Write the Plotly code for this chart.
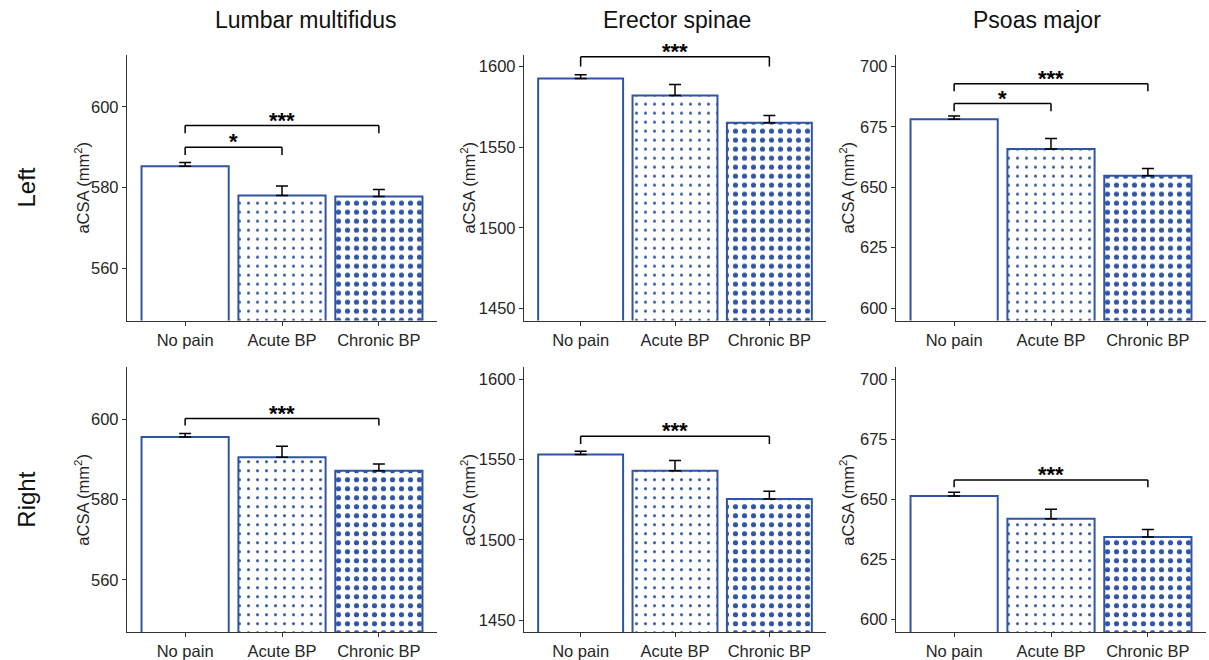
import plotly.graph_objects as go

# ---------------- data ----------------
categories = ["No pain", "Acute BP", "Chronic BP"]
muscles = ["Lumbar multifidus", "Erector spinae", "Psoas major"]
sides = ["Left", "Right"]

left_lm_mean = [585.3, 578.0, 577.8]
left_lm_se = [0.9, 2.4, 1.7]
left_es_mean = [1592.6, 1582.1, 1565.1]
left_es_se = [2.3, 6.8, 4.6]
left_pm_mean = [678.2, 665.9, 654.8]
left_pm_se = [1.3, 4.3, 3.0]

right_lm_mean = [595.6, 590.6, 587.2]
right_lm_se = [0.9, 2.7, 1.7]
right_es_mean = [1553.1, 1543.0, 1525.5]
right_es_se = [2.0, 6.4, 4.7]
right_pm_mean = [651.4, 642.0, 634.4]
right_pm_se = [1.6, 3.9, 3.1]

y_ranges = [[547.0, 613.0], [1442.6, 1607.4], [594.8, 705.0]]
y_ticks = [[560, 580, 600], [1450, 1500, 1550, 1600], [600, 625, 650, 675, 700]]

# significance brackets: (row, col, from, to, bracket y, tick end y, label)
br_row = [0, 0, 0, 0, 0, 1, 1, 1]
br_col = [0, 0, 1, 2, 2, 0, 1, 2]
br_from = [0, 0, 0, 0, 0, 0, 0, 0]
br_to = [1, 2, 2, 1, 2, 2, 2, 2]
br_y = [590.0, 595.4, 1606.0, 684.7, 692.9, 600.2, 1564.4, 658.1]
br_end = [588.1, 593.5, 1600.0, 681.5, 689.8, 598.5, 1559.7, 655.1]
br_label = ["*", "***", "***", "*", "***", "***", "***", "***"]

means = [[left_lm_mean, left_es_mean, left_pm_mean],
         [right_lm_mean, right_es_mean, right_pm_mean]]
ses = [[left_lm_se, left_es_se, left_pm_se],
       [right_lm_se, right_es_se, right_pm_se]]

# ---------------- style ----------------
W, H = 1209, 660
BLUE = "#2F55A4"
AX = "#333333"
TXT = "#262626"
FONT = "Liberation Sans, Arial, sans-serif"
col_px = [(127, 437), (524, 826), (896, 1206)]
row_px = [(55, 323), (370, 637)]
title_x_px = [306, 677, 1037]
ytitle_x_px = [82, 468, 847]

fig = go.Figure()
layout = dict(
    width=W, height=H, margin=dict(l=0, r=0, t=0, b=0),
    paper_bgcolor="white", plot_bgcolor="white",
    showlegend=False, bargap=0.1,
    font=dict(family=FONT, size=16, color=TXT),
)
annotations = []
shapes = []

for r in range(2):
    for c in range(3):
        k = r * 3 + c + 1
        xa = "x" if k == 1 else f"x{k}"
        ya = "y" if k == 1 else f"y{k}"
        fig.add_trace(go.Bar(
            x=categories, y=means[r][c], xaxis=xa, yaxis=ya,
            width=0.9,
            marker=dict(
                color="white",
                line=dict(color=BLUE, width=2),
                pattern=dict(shape=["", ".", "."], size=9,
                             solidity=[0.1, 0.09, 0.26],
                             fgcolor=BLUE, bgcolor="white", fillmode="replace"),
            ),
            error_y=dict(type="data", array=ses[r][c], arrayminus=[0, 0, 0],
                         symmetric=False, color="black", thickness=1.5, width=6),
        ))
        x0, x1 = col_px[c]
        y0, y1 = row_px[r]
        layout["xaxis" if k == 1 else f"xaxis{k}"] = dict(
            domain=[x0 / W, x1 / W], anchor=ya, type="category",
            categoryorder="array", categoryarray=categories,
            range=[-0.6, 2.6], showline=True, linecolor=AX, linewidth=1.3,
            ticks="outside", ticklen=4, tickcolor=AX, showgrid=False,
            zeroline=False, tickfont=dict(size=16.5, color=TXT),
            fixedrange=True,
        )
        layout["yaxis" if k == 1 else f"yaxis{k}"] = dict(
            domain=[1 - y1 / H, 1 - y0 / H], anchor=xa,
            range=y_ranges[c], tickvals=y_ticks[c], showline=True,
            linecolor=AX, linewidth=1.3, ticks="outside", ticklen=4,
            tickcolor=AX, showgrid=False, zeroline=False,
            tickfont=dict(size=16.5, color=TXT), fixedrange=True,
        )
        annotations.append(dict(
            text="aCSA (mm<sup>2</sup>)", textangle=-90, showarrow=False,
            xref="paper", yref="paper", x=ytitle_x_px[c] / W,
            y=1 - (y0 + y1) / 2 / H, xanchor="center", yanchor="middle",
            font=dict(size=16.5, color=TXT),
        ))

# brackets
for i in range(len(br_y)):
    k = br_row[i] * 3 + br_col[i] + 1
    xr = "x" if k == 1 else f"x{k}"
    yr = "y" if k == 1 else f"y{k}"
    line = dict(color="black", width=1.5)
    a, b = br_from[i], br_to[i]
    shapes.append(dict(type="line", xref=xr, yref=yr, x0=a, x1=b,
                       y0=br_y[i], y1=br_y[i], line=line))
    shapes.append(dict(type="line", xref=xr, yref=yr, x0=a, x1=a,
                       y0=br_end[i], y1=br_y[i], line=line))
    shapes.append(dict(type="line", xref=xr, yref=yr, x0=b, x1=b,
                       y0=br_end[i], y1=br_y[i], line=line))
    annotations.append(dict(
        text="<b>" + br_label[i] + "</b>", showarrow=False, xref=xr, yref=yr,
        x=(a + b) / 2, y=br_y[i], xanchor="center", yanchor="bottom",
        yshift=-9, font=dict(size=22, color="black"),
    ))

# column titles
for c in range(3):
    annotations.append(dict(
        text=muscles[c], showarrow=False, xref="paper", yref="paper",
        x=title_x_px[c] / W, y=1 - 20 / H, xanchor="center", yanchor="middle",
        font=dict(size=23, color="#111111"),
    ))
# row labels
for r in range(2):
    y0, y1 = row_px[r]
    annotations.append(dict(
        text=sides[r], showarrow=False, textangle=-90, xref="paper", yref="paper",
        x=27 / W, y=1 - ((y0 + y1) / 2) / H, xanchor="center", yanchor="middle",
        font=dict(size=24, color="#111111"),
    ))

layout["annotations"] = annotations
layout["shapes"] = shapes
fig.update_layout(**layout)
fig.write_html(
    "out.html",
    config={"displayModeBar": False},
    post_script="document.body.style.margin='0';document.body.style.overflow='hidden';",
)
